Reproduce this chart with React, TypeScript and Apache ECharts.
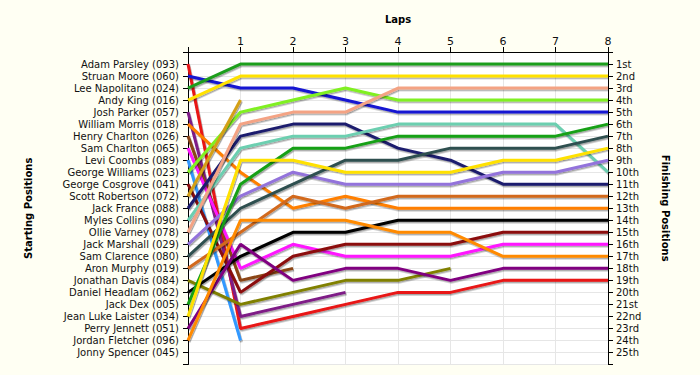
import React, { useEffect, useRef } from 'react';
import * as echarts from 'echarts';

// Starting grid (position 1..25)
const startNames = [
  'Adam Parsley (093)', 'Struan Moore (060)', 'Lee Napolitano (024)', 'Andy King (016)',
  'Josh Parker (057)', 'William Morris (018)', 'Henry Charlton (026)', 'Sam Charlton (065)',
  'Levi Coombs (089)', 'George Williams (023)', 'George Cosgrove (041)', 'Scott Robertson (072)',
  'Jack France (088)', 'Myles Collins (090)', 'Ollie Varney (078)', 'Jack Marshall (029)',
  'Sam Clarence (080)', 'Aron Murphy (019)', 'Jonathan Davis (084)', 'Daniel Headlam (062)',
  'Jack Dex (005)', 'Jean Luke Laister (034)', 'Perry Jennett (051)', 'Jordan Fletcher (096)',
  'Jonny Spencer (045)',
];

const finishLabels = [
  '1st', '2nd', '3rd', '4th', '5th', '6th', '7th', '8th', '9th', '10th', '11th', '12th', '13th',
  '14th', '15th', '16th', '17th', '18th', '19th', '20th', '21st', '22nd', '23rd', '24th', '25th',
];

const lapLabels = ['', '1', '2', '3', '4', '5', '6', '7', '8'];

const driverColors = [
  '#E81414', '#1414D2', '#1E9E1E', '#FFE100', '#7E1A86', '#FF7F00', '#8B4513', '#FF14FF',
  '#3399FF', '#80F020', '#8B0A0A', '#D4A017', '#1E1E6E', '#6CCFB0', '#F4A384', '#9373DB',
  '#2F4F4F', '#D2691E', '#808000', '#000000', '#15A015', '#FFE100', '#800080', '#FF8A00',
  '#999999',
];

// Position at start (lap 0) then after each completed lap; shorter list = retired
const racePositions: number[][] = [
  [1, 23, 22, 21, 20, 20, 19, 19, 19],
  [2, 3, 3, 4, 5, 5, 5, 5, 5],
  [3, 1, 1, 1, 1, 1, 1, 1, 1],
  [4, 2, 2, 2, 2, 2, 2, 2, 2],
  [5, 22, 21, 20],
  [6, 10, 13, 12, 13, 13, 13, 13, 13],
  [7, 19, 18],
  [8, 18, 16, 17, 17, 17, 16, 16, 16],
  [9, 24],
  [10, 5, 4, 3, 4, 4, 4, 4, 4],
  [11, 20, 17, 16, 16, 16, 15, 15, 15],
  [12, 4],
  [13, 7, 6, 6, 8, 9, 11, 11, 11],
  [14, 8, 7, 7, 6, 6, 6, 6, 10],
  [15, 6, 5, 5, 3, 3, 3, 3, 3],
  [16, 12, 10, 11, 11, 11, 10, 10, 9],
  [17, 13, 11, 9, 9, 8, 8, 8, 7],
  [18, 15, 12, 13, 12, 12, 12, 12, 12],
  [19, 21, 20, 19, 19, 18],
  [20, 17, 15, 15, 14, 14, 14, 14, 14],
  [21, 11, 8, 8, 7, 7, 7, 7, 6],
  [22, 9, 9, 10, 10, 10, 9, 9, 8],
  [23, 16, 19, 18, 18, 19, 18, 18, 18],
  [24, 14, 14, 14, 15, 15, 17, 17, 17],
  [],
];

const FONT = 'DejaVu Sans';

export default function App() {
  const ref = useRef<HTMLDivElement>(null);

  useEffect(() => {
    if (!ref.current) return;
    const chart = echarts.init(ref.current, null, { renderer: 'svg' });

    const series = racePositions.map((positions, i) => ({
      type: 'line',
      name: startNames[i],
      data: positions.map((p, lap) => [lap, p]),
      symbol: 'none',
      showSymbol: false,
      silent: true,
      lineStyle: {
        color: driverColors[i],
        width: 3,
        shadowColor: 'rgba(0,0,0,0.35)',
        shadowBlur: 1,
        shadowOffsetX: 1,
        shadowOffsetY: 1.5,
      },
    }));

    const yCommon = {
      type: 'value',
      min: 0,
      max: 26,
      interval: 1,
      inverse: true,
      axisLine: { show: true, onZero: false, lineStyle: { color: '#000', width: 1 } },
      axisTick: { show: true, length: 5, lineStyle: { color: '#000' } },
      nameLocation: 'middle',
      nameTextStyle: { fontFamily: FONT, fontSize: 10, fontWeight: 'bold', color: '#000' },
    };

    chart.setOption({
      animation: false,
      backgroundColor: '#FFFFF3',
      grid: {
        left: 188,
        right: 92,
        top: 52,
        bottom: 10.5,
        show: true,
        backgroundColor: '#FFFFFF',
        borderWidth: 0,
      },
      xAxis: {
        type: 'value',
        position: 'top',
        min: 0,
        max: 8,
        interval: 1,
        name: 'Laps',
        nameLocation: 'middle',
        nameGap: 28,
        nameTextStyle: { fontFamily: FONT, fontSize: 10, fontWeight: 'bold', color: '#000' },
        axisLine: { show: true, onZero: false, lineStyle: { color: '#000', width: 1 } },
        axisTick: { show: true, length: 5, lineStyle: { color: '#000' } },
        axisLabel: {
          formatter: (v: number) => lapLabels[v] ?? '',
          fontFamily: FONT,
          fontSize: 11,
          color: '#111',
          margin: 5,
        },
        splitLine: { show: true, lineStyle: { color: '#E6E6E6', width: 1 } },
      },
      yAxis: [
        {
          ...yCommon,
          position: 'left',
          name: 'Starting Positions',
          nameRotate: 90,
          nameGap: 155,
          axisLabel: {
            formatter: (v: number) => startNames[v - 1] ?? '',
            fontFamily: FONT,
            fontSize: 10,
            color: '#111',
            margin: 9,
          },
          splitLine: { show: true, lineStyle: { color: '#E6E6E6', width: 1 } },
        },
        {
          ...yCommon,
          position: 'right',
          name: 'Finishing Positions',
          nameRotate: -90,
          nameGap: 52,
          axisLabel: {
            formatter: (v: number) => finishLabels[v - 1] ?? '',
            fontFamily: FONT,
            fontSize: 10,
            color: '#111',
            margin: 8,
          },
          splitLine: { show: false },
        },
      ],
      series,
    });

    return () => chart.dispose();
  }, []);

  return (
    <div
      ref={ref}
      style={{ position: 'fixed', left: 0, top: 0, width: 700, height: 375 }}
    />
  );
}
